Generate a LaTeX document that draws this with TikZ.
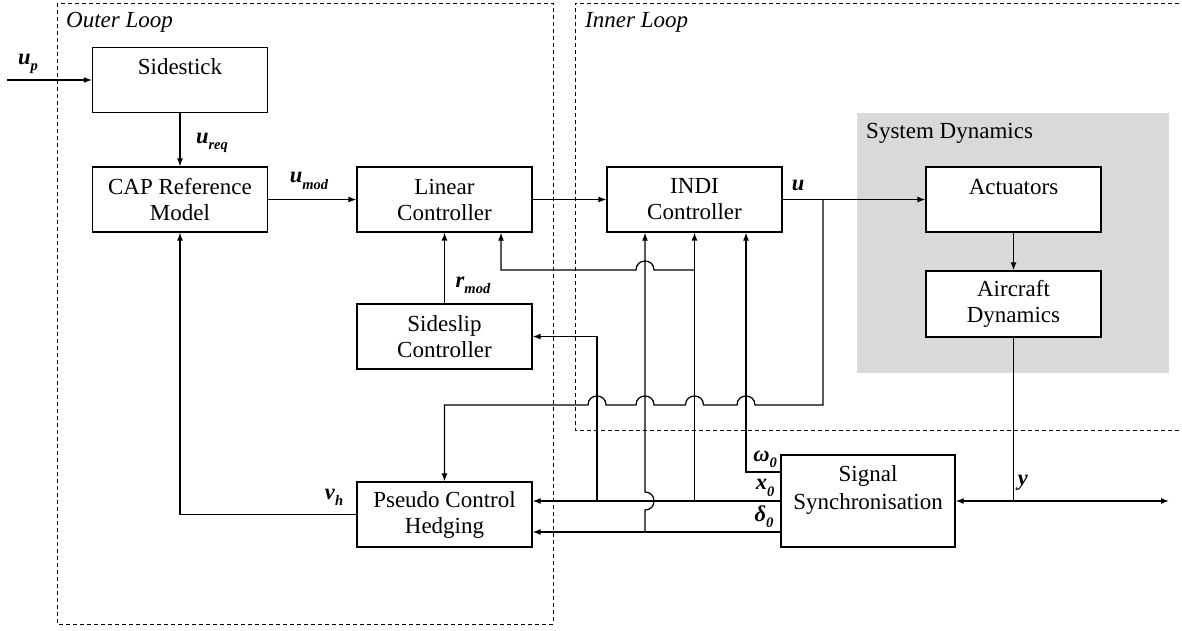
\documentclass[tikz,border=0pt]{standalone}
\usepackage{fontspec}
\setmainfont{Liberation Serif}
\usetikzlibrary{arrows.meta}
\definecolor{sysgray}{RGB}{217,217,217}
\newcommand\lb[2]{\textbf{\textit{#1}}\raisebox{-0.28em}{\fontsize{14.5}{14.5}\selectfont\textbf{\textit{#2}}}}
\tikzset{
  blk/.style={draw, line width=1.25pt, fill=white, minimum width=175pt, minimum height=65pt,
    inner sep=0pt, align=center, font=\fontsize{23}{26}\selectfont},
  arr/.style={-{Latex[length=8pt,width=6pt]}, line width=1.25pt},
  ln/.style={line width=1.25pt},
  lbl/.style={font=\fontsize{22.5}{26}\selectfont, inner sep=0pt},
  ttl/.style={font=\fontsize{23}{26}\selectfont, inner sep=0pt},
  loopbox/.style={dash pattern=on 4pt off 3pt, line width=1pt},
}
\begin{document}
\begin{tikzpicture}[x=1pt,y=-1pt]
\useasboundingbox (0,0) rectangle (1182,630);
% system dynamics background
\fill[sysgray] (857,113) rectangle (1169,373);
\node[ttl, anchor=west] (tsys) at (866,133) {System Dynamics};
% loops
\draw[loopbox] (57,3) rectangle (553,624);
\draw[loopbox] (1186,3) -- (575,3) -- (575,430) -- (1186,430);
\node[ttl, anchor=west] (tout) at (66,22) {\textit{Outer Loop}};
\node[ttl, anchor=west] (tin) at (585,22) {\textit{Inner Loop}};
% blocks
\node[blk] (side) at (180,80) {Sidestick\\~};
\node[blk] (cap) at (180,199.5) {CAP Reference\\Model};
\node[blk] (lin) at (444.5,199.5) {Linear\\Controller};
\node[blk] (indi) at (694.5,199.5) {INDI\\Controller};
\node[blk] (act) at (1013.5,199.5) {Actuators\\~};
\node[blk, minimum height=66pt] (air) at (1013.5,304) {Aircraft\\Dynamics};
\node[blk] (slip) at (444.5,336.5) {Sideslip\\Controller};
\node[blk] (pch) at (444.5,514.5) {Pseudo Control\\Hedging};
\node[blk, minimum width=174pt, minimum height=92pt] (sync) at (868,501) {Signal\\[2pt]Synchronisation\\~};
% free ends and junctions
\coordinate (upin) at (7,80);
\coordinate (yend) at (1169,501);
\coordinate (w0) at ([yshift=29pt]sync.west);
\coordinate (x0) at (sync.west);
\coordinate (d0) at ([yshift=-31pt]sync.west);
\coordinate (yj) at (air.south |- sync.east);
\coordinate (uj) at (823,199.5);
% forward path
\draw[arr] (upin) -- (side.west);
\draw[arr] (side) -- (cap);
\draw[arr] (cap) -- (lin);
\draw[arr] (lin) -- (indi);
\draw[arr] (indi) -- (act);
\draw[arr] (act) -- (air);
\draw[ln] (air.south) -- (yj);
\draw[arr] (yj) -- (sync.east);
\draw[arr] (yj) -- (yend);
\draw[arr] (slip) -- (lin);
% v_h
\draw[arr] (pch.west) -| (cap.south);
% signals from synchronisation
\draw[arr] (x0) -- (x0 -| pch.east);
\draw[arr] (d0) -- (d0 -| pch.east);
\draw[arr] (w0) -| ([xshift=51.5pt]indi.south);
\draw[arr] (indi.south |- x0) -- (indi.south);
\draw[arr] (645,532) -- (645,510) .. controls (657,510) and (657,492) .. (645,492) -- ([xshift=-49.5pt]indi.south);
\draw[arr] (597,501) |- (slip.east);
% feedback to linear controller
\draw[arr] (indi.south |- 0,270) -- (654,270) .. controls (654,258) and (636,258) .. (636,270) -- (501,270) -- ([xshift=56.5pt]lin.south);
% u feedback to PCH
\draw[arr] (uj) -- (823,405) -- (755,405) .. controls (755,393) and (737,393) .. (737,405)
  -- (703.5,405) .. controls (703.5,393) and (685.5,393) .. (685.5,405)
  -- (654,405) .. controls (654,393) and (636,393) .. (636,405)
  -- (606,405) .. controls (606,393) and (588,393) .. (588,405)
  -- (pch.north |- 0,405) -- (pch.north);
% labels
\node[lbl] (lup) at (28,64) {\lb{u}{p}};
\node[lbl] (lureq) at (212,143) {\lb{u}{req}};
\node[lbl] (lumod) at (309,181) {\lb{u}{mod}};
\node[lbl] (lu) at (798,185) {\textbf{\textit{u}}};
\node[lbl] (lrmod) at (473,285) {\lb{r}{mod}};
\node[lbl] (lvh) at (334,497) {\lb{v}{h}};
\node[lbl] (lw0) at (765,459) {\lb{ω}{0}};
\node[lbl] (lx0) at (765,488) {\lb{x}{0}};
\node[lbl] (ld0) at (764,517) {\lb{δ}{0}};
\node[lbl] (ly) at (1023,483) {\textbf{\textit{y}}};
\end{tikzpicture}
\end{document}
